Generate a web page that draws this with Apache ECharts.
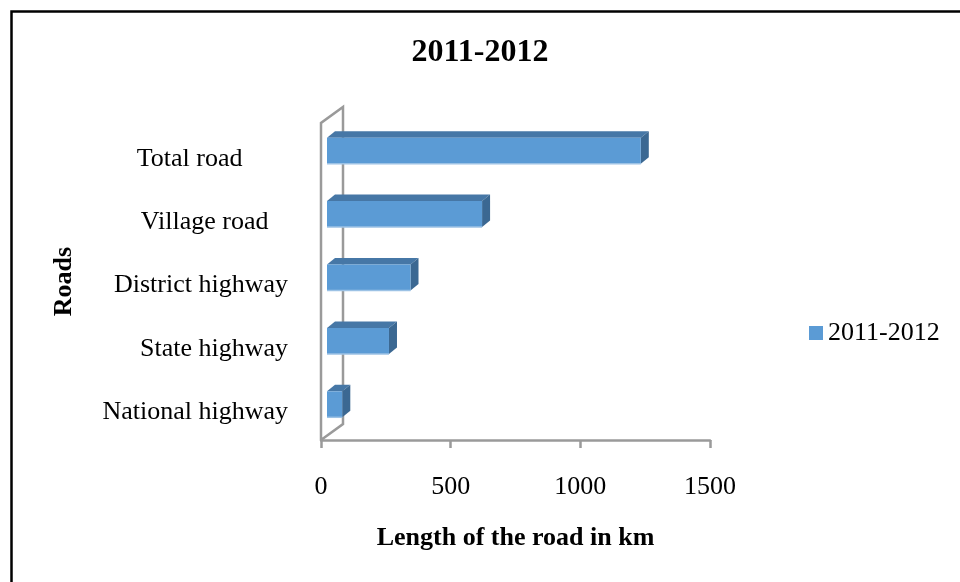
<!DOCTYPE html>
<html>
<head>
<meta charset="utf-8">
<script src="https://cdn.jsdelivr.net/npm/echarts@6/dist/echarts.min.js"></script>
<style>
  html, body { margin: 0; padding: 0; background: #fff; }
  #main { width: 960px; height: 582px; }
</style>
</head>
<body>
<div id="main"></div>
<script>
// data, bottom to top as drawn
var roads = ['National highway', 'State highway', 'District highway', 'Village road   ', 'Total road       '];
var lengths = [59, 239, 322, 598, 1210];
var xTicks = [0, 500, 1000, 1500];
var seriesName = '2011-2012';

var FONT = "'Liberation Serif', 'Times New Roman', serif";
var myChart = echarts.init(document.getElementById('main'));

// 3d look
var wallDx = 22, wallDy = -16;   // depth of the back wall
var barOffX = 6, barOffY = -4;   // bar front face offset
var barDx = 8, barDy = -6.5;     // bar depth

var barData = [];
for (var i = 0; i < lengths.length; i++) {
    barData.push([lengths[i], i]);
}

function drawBar(params, api) {
    var cat = api.value(1);
    var start = api.coord([0, cat]);
    var end = api.coord([api.value(0), cat]);
    var h = api.size([0, 1])[1] * 0.41;
    var x0 = start[0] + barOffX;
    var x1 = end[0] + barOffX;
    var yt = start[1] + barOffY - h / 2;
    return {
        type: 'group',
        children: [
            {   // top face
                type: 'polygon',
                shape: { points: [[x0, yt], [x1, yt], [x1 + barDx, yt + barDy], [x0 + barDx, yt + barDy]] },
                style: { fill: '#4677A6' }
            },
            {   // side face
                type: 'polygon',
                shape: { points: [[x1, yt], [x1 + barDx, yt + barDy], [x1 + barDx, yt + h + barDy], [x1, yt + h]] },
                style: { fill: '#3B6892' }
            },
            {   // front face
                type: 'rect',
                shape: { x: x0, y: yt, width: x1 - x0, height: h },
                style: { fill: '#5B9BD5' }
            },
            {
                type: 'line',
                shape: { x1: x0, y1: yt + h, x2: x1, y2: yt + h },
                style: { stroke: '#9CC2E5', lineWidth: 1.5 }
            }
        ]
    };
}

function drawWall(params, api) {
    var cs = params.coordSys;
    var l = cs.x, t = cs.y, b = cs.y + cs.height;
    return {
        type: 'polyline',
        shape: { points: [[l, b], [l, t], [l + wallDx, t + wallDy], [l + wallDx, b + wallDy], [l, b]] },
        style: { stroke: '#9a9a9a', lineWidth: 2.5, fill: null }
    };
}

var option = {
    animation: false,
    backgroundColor: '#fff',
    title: {
        text: '2011-2012',
        left: 'center',
        top: 37,
        padding: 0,
        textStyle: { fontFamily: FONT, fontSize: 32, fontWeight: 'bold', color: '#000' }
    },
    legend: {
        data: [seriesName],
        left: 804,
        top: 315,
        itemWidth: 14,
        itemHeight: 14,
        itemGap: 6,
        icon: 'rect',
        textStyle: { fontFamily: FONT, fontSize: 26, color: '#000' }
    },
    graphic: [{
        type: 'rect',
        left: 9,
        top: 9,
        shape: { width: 970, height: 600 },
        style: { fill: null, stroke: '#000', lineWidth: 2.5 },
        z: 100
    }],
    grid: { left: 321, right: 250, top: 123, bottom: 142 },
    xAxis: {
        type: 'value',
        min: 0,
        max: 1500,
        interval: 500,
        name: 'Length of the road in km',
        nameLocation: 'middle',
        nameGap: 85,
        nameTextStyle: { fontFamily: FONT, fontSize: 26, fontWeight: 'bold', color: '#000' },
        axisLine: { show: true, lineStyle: { color: '#9a9a9a', width: 2.5 } },
        axisTick: { show: true, length: 8, lineStyle: { color: '#9a9a9a', width: 2.5 } },
        axisLabel: {
            margin: 34,
            fontFamily: FONT, fontSize: 26, color: '#000',
            formatter: function (v) { return xTicks.indexOf(v) >= 0 ? String(v) : ''; }
        },
        splitLine: { show: false }
    },
    yAxis: {
        type: 'category',
        data: roads,
        name: 'Roads',
        nameLocation: 'middle',
        nameGap: 244,
        nameRotate: 90,
        nameTextStyle: { fontFamily: FONT, fontSize: 26, fontWeight: 'bold', color: '#000' },
        axisLine: { show: false },
        axisTick: { show: false },
        axisLabel: {
            margin: 33,
            formatter: function (v) { return '{c|' + v + '}'; },
            rich: {
                c: { fontFamily: FONT, fontSize: 26, color: '#000', padding: [8, 0, 0, 0] }
            }
        },
        splitLine: { show: false }
    },
    series: [
        {
            name: 'wall',
            type: 'custom',
            renderItem: drawWall,
            data: [[0, 0]],
            encode: { x: 0, y: 1 },
            silent: true,
            z: 1
        },
        {
            name: seriesName,
            type: 'custom',
            renderItem: drawBar,
            itemStyle: { color: '#5B9BD5' },
            data: barData,
            encode: { x: 0, y: 1 },
            z: 2
        }
    ]
};

myChart.setOption(option);
</script>
</body>
</html>
